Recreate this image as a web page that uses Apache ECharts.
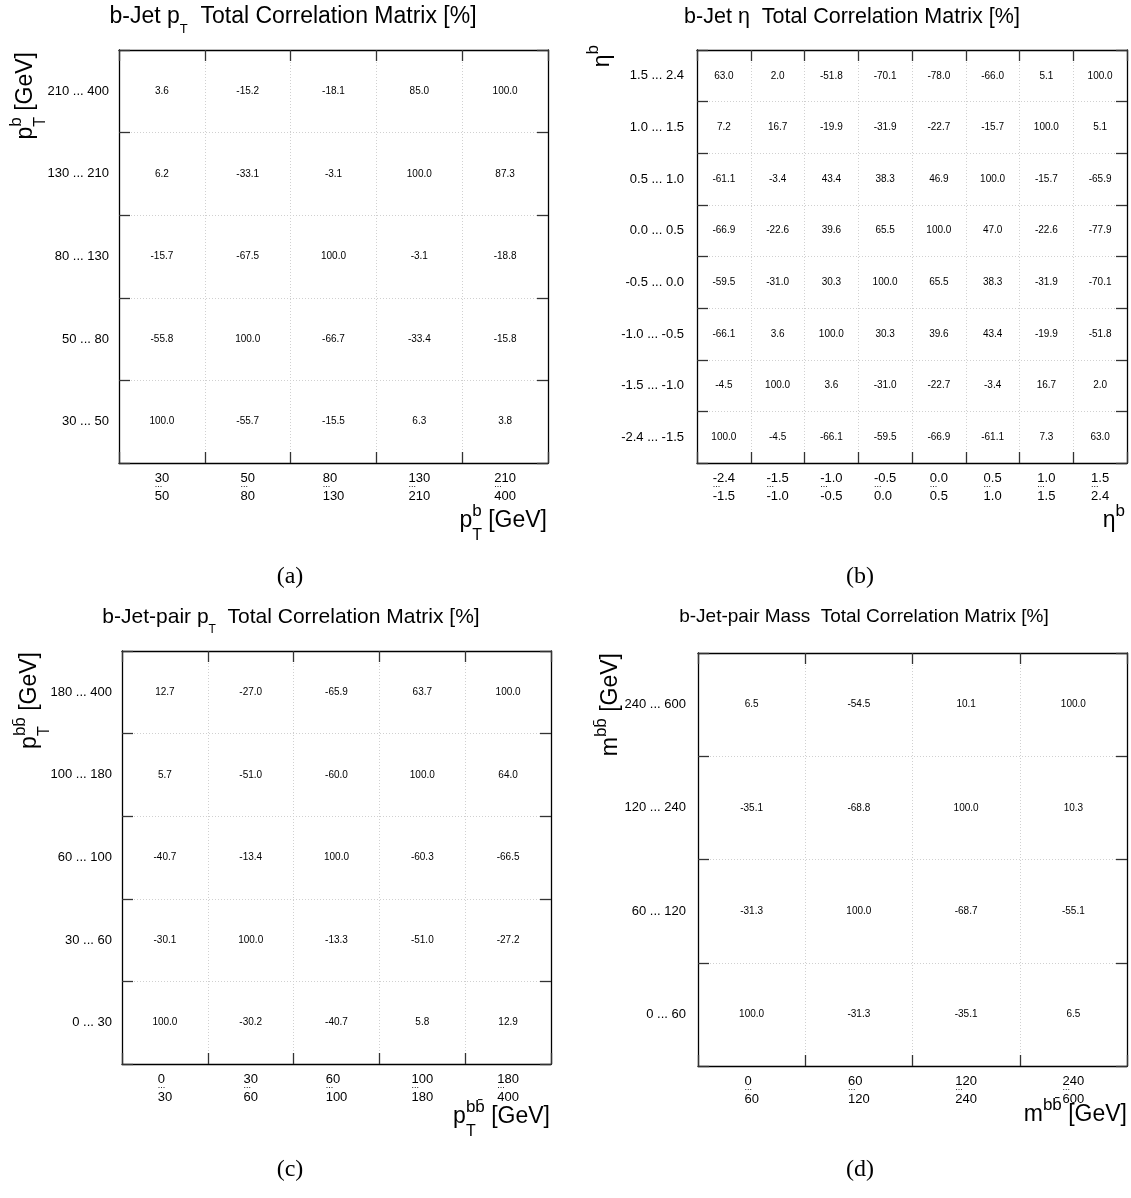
<!DOCTYPE html>
<html>
<head>
<meta charset="utf-8">
<script src="https://cdn.jsdelivr.net/npm/echarts@6/dist/echarts.min.js"></script>
<style>html,body{margin:0;padding:0;background:#fff}#c{width:1131px;height:1198px}</style>
</head>
<body>
<div id="c"></div>
<script>
// ---------- DATA (rows listed from bottom bin to top bin) ----------
const ptBEdges = ['30', '50', '80', '130', '210', '400'];
const ptBCorr = [
  [100.0, -55.7, -15.5, 6.3, 3.8],
  [-55.8, 100.0, -66.7, -33.4, -15.8],
  [-15.7, -67.5, 100.0, -3.1, -18.8],
  [6.2, -33.1, -3.1, 100.0, 87.3],
  [3.6, -15.2, -18.1, 85.0, 100.0]
];

const etaBEdges = ['-2.4', '-1.5', '-1.0', '-0.5', '0.0', '0.5', '1.0', '1.5', '2.4'];
const etaBCorr = [
  [100.0, -4.5, -66.1, -59.5, -66.9, -61.1, 7.3, 63.0],
  [-4.5, 100.0, 3.6, -31.0, -22.7, -3.4, 16.7, 2.0],
  [-66.1, 3.6, 100.0, 30.3, 39.6, 43.4, -19.9, -51.8],
  [-59.5, -31.0, 30.3, 100.0, 65.5, 38.3, -31.9, -70.1],
  [-66.9, -22.6, 39.6, 65.5, 100.0, 47.0, -22.6, -77.9],
  [-61.1, -3.4, 43.4, 38.3, 46.9, 100.0, -15.7, -65.9],
  [7.2, 16.7, -19.9, -31.9, -22.7, -15.7, 100.0, 5.1],
  [63.0, 2.0, -51.8, -70.1, -78.0, -66.0, 5.1, 100.0]
];

const ptBBEdges = ['0', '30', '60', '100', '180', '400'];
const ptBBCorr = [
  [100.0, -30.2, -40.7, 5.8, 12.9],
  [-30.1, 100.0, -13.3, -51.0, -27.2],
  [-40.7, -13.4, 100.0, -60.3, -66.5],
  [5.7, -51.0, -60.0, 100.0, 64.0],
  [12.7, -27.0, -65.9, 63.7, 100.0]
];

const mBBEdges = ['0', '60', '120', '240', '600'];
const mBBCorr = [
  [100.0, -31.3, -35.1, 6.5],
  [-31.3, 100.0, -68.7, -55.1],
  [-35.1, -68.8, 100.0, 10.3],
  [6.5, -54.5, 10.1, 100.0]
];

const titles = [
  '{m|b-Jet p}{s|T}{m|  Total Correlation Matrix [%]}',
  '{m|b-Jet η  Total Correlation Matrix [%]}',
  '{m|b-Jet-pair p}{s|T}{m|  Total Correlation Matrix [%]}',
  '{m|b-Jet-pair Mass  Total Correlation Matrix [%]}'
];
const axisTitles = [
  '{m|p}{subz|T}{supw|b}{m| [GeV]}',
  '{m|η}{supw|b}',
  '{m|p}{subz|T}{supw|bb\u0304}{m| [GeV]}',
  '{m|m}{supw|bb\u0304}{m| [GeV]}'
];
const captions = ['(a)', '(b)', '(c)', '(d)'];

// ---------- LAYOUT ----------
const FONT = '"Liberation Sans", Arial, Helvetica, sans-serif';
const panels = [
  { edges: ptBEdges, corr: ptBCorr, grid: { left: 119, top: 50, width: 429, height: 413 }, ylabMargin: 10,
    titleX: 293, titleY: 17, titleSize: 23, xt: [547, 521], yt: [26, 52], cap: [290, 577] },
  { edges: etaBEdges, corr: etaBCorr, grid: { left: 697, top: 50, width: 430, height: 413 }, ylabMargin: 13,
    titleX: 852, titleY: 17, titleSize: 21.5, xt: [1125, 521], yt: [603, 45], cap: [860, 577] },
  { edges: ptBBEdges, corr: ptBBCorr, grid: { left: 122, top: 651, width: 429, height: 413 }, ylabMargin: 10,
    titleX: 291, titleY: 617, titleSize: 21, xt: [550, 1117], yt: [30, 652], cap: [290, 1170] },
  { edges: mBBEdges, corr: mBBCorr, grid: { left: 698, top: 653, width: 429, height: 413 }, ylabMargin: 12,
    titleX: 864, titleY: 617, titleSize: 19, xt: [1127, 1115], yt: [611, 653], cap: [860, 1170] }
];

function cats(edges) {
  const out = [];
  for (let i = 0; i < edges.length - 1; i++) out.push(edges[i] + ' ... ' + edges[i + 1]);
  return out;
}

const axisLineStyle = { color: '#000', width: 1.3 };
const tickStyle = { color: '#333', width: 1.3 };
const splitStyle = { color: '#d0d0d0', width: 1, type: [1, 2] };

const grids = [], xAxes = [], yAxes = [], series = [], graphics = [];

panels.forEach((p, i) => {
  const c = cats(p.edges);
  grids.push(Object.assign({ containLabel: false, outerBoundsMode: 'none' }, p.grid));
  xAxes.push({
    gridIndex: i, type: 'category', data: c, position: 'bottom',
    axisLine: { show: true, lineStyle: axisLineStyle },
    axisTick: { show: true, inside: true, length: 11, interval: 0, lineStyle: tickStyle },
    splitLine: { show: true, interval: 0, lineStyle: splitStyle },
    axisLabel: {
      interval: 0, margin: 9, color: '#000',
      formatter: v => { const a = v.split(' ... '); return '{n|' + a[0] + '}\n{d|...}\n{n|' + a[1] + '}'; },
      rich: {
        n: { fontSize: 13, fontFamily: FONT, color: '#000', lineHeight: 12, align: 'left' },
        d: { fontSize: 9, fontFamily: FONT, color: '#000', lineHeight: 6, padding: [0, 0, 5, 0], align: 'left' }
      }
    }
  });
  xAxes.push({
    gridIndex: i, type: 'category', data: c, position: 'top',
    axisLine: { show: true, lineStyle: axisLineStyle },
    axisTick: { show: true, inside: true, length: 11, interval: 0, lineStyle: tickStyle },
    axisLabel: { show: false }, splitLine: { show: false }
  });
  yAxes.push({
    gridIndex: i, type: 'category', data: c, position: 'left',
    axisLine: { show: true, lineStyle: axisLineStyle },
    axisTick: { show: true, inside: true, length: 11, interval: 0, lineStyle: tickStyle },
    splitLine: { show: true, interval: 0, lineStyle: splitStyle },
    axisLabel: { interval: 0, margin: p.ylabMargin, fontSize: 13, fontFamily: FONT, color: '#000' }
  });
  yAxes.push({
    gridIndex: i, type: 'category', data: c, position: 'right',
    axisLine: { show: true, lineStyle: axisLineStyle },
    axisTick: { show: true, inside: true, length: 11, interval: 0, lineStyle: tickStyle },
    axisLabel: { show: false }, splitLine: { show: false }
  });
  const data = [];
  p.corr.forEach((row, y) => row.forEach((v, x) => data.push([x, y, v])));
  series.push({
    type: 'heatmap', xAxisIndex: 2 * i, yAxisIndex: 2 * i, data: data,
    itemStyle: { color: 'rgba(255,255,255,0)' },
    label: { show: true, formatter: q => q.value[2].toFixed(1), fontSize: 10, fontFamily: FONT, color: '#000' },
    emphasis: { disabled: true }, silent: true
  });

  // title
  const ts = p.titleSize;
  graphics.push({
    type: 'text', x: p.titleX, y: p.titleY, silent: true,
    style: {
      text: titles[i], align: 'center', verticalAlign: 'middle',
      rich: {
        m: { fontSize: ts, fontFamily: FONT, fill: '#000', lineHeight: 38, align: 'left' },
        s: { fontSize: Math.round(ts * 0.57), fontFamily: FONT, fill: '#000', lineHeight: 12, verticalAlign: 'bottom', align: 'left' }
      }
    }
  });
  const axRich = {
    m: { fontSize: 23, fontFamily: FONT, fill: '#000', lineHeight: 46, align: 'left' },
    supw: { fontSize: 17, fontFamily: FONT, fill: '#000', verticalAlign: 'top', align: 'left', padding: [5, 0, 0, 0] },
    subz: { fontSize: 16, fontFamily: FONT, fill: '#000', lineHeight: 14, verticalAlign: 'bottom', align: 'left', width: 0.01 }
  };
  // x-axis title
  graphics.push({
    type: 'text', x: p.xt[0], y: p.xt[1], silent: true,
    style: { text: axisTitles[i], align: 'right', verticalAlign: 'middle', rich: axRich }
  });
  // y-axis title (rotated)
  graphics.push({
    type: 'text', x: p.yt[0], y: p.yt[1], rotation: Math.PI / 2, silent: true,
    style: { text: axisTitles[i], align: 'right', verticalAlign: 'middle', rich: axRich }
  });
  // caption
  graphics.push({
    type: 'text', x: p.cap[0], y: p.cap[1], silent: true,
    style: { text: captions[i], align: 'center', verticalAlign: 'middle', fontSize: 24,
      fontFamily: '"Liberation Serif", "DejaVu Serif", serif', fill: '#000' }
  });
});

const chart = echarts.init(document.getElementById('c'), null, { renderer: 'canvas' });
chart.setOption({
  backgroundColor: '#fff',
  animation: false,
  grid: grids,
  xAxis: xAxes,
  yAxis: yAxes,
  series: series,
  graphic: graphics
});
</script>
</body>
</html>
